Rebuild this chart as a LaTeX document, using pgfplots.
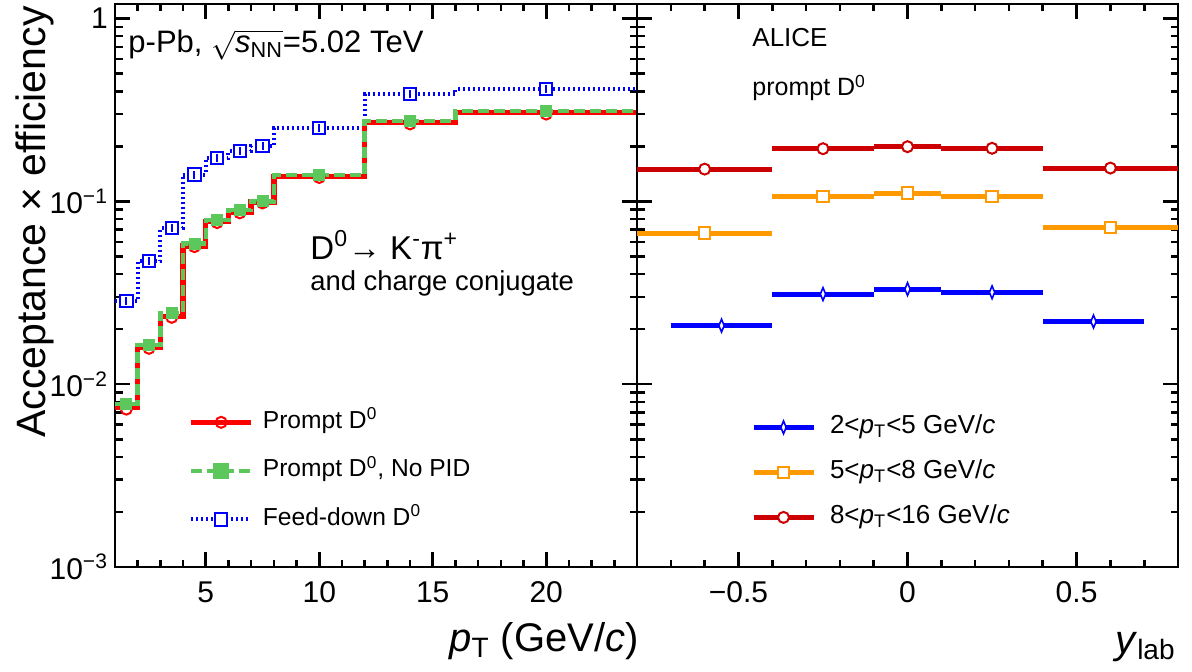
\documentclass[border=0pt]{standalone}
\usepackage{fontspec}
\setmainfont{Liberation Sans}
\usepackage{pgfplots}
\pgfplotsset{compat=1.18}

\definecolor{prred}{RGB}{255,0,0}
\definecolor{nopid}{RGB}{92,200,92}
\definecolor{fdblue}{RGB}{0,0,255}
\definecolor{rblue}{RGB}{0,0,255}
\definecolor{rorange}{RGB}{255,153,0}
\definecolor{rred}{RGB}{204,0,0}

\newcommand{\fs}[1]{\fontsize{#1}{#1}\selectfont}

\pgfplotsset{
  every axis/.append style={
    scale only axis, height=281.5pt,
    ymin=1e-3, ymax=1.2,
    ytick={0.001,0.01,0.1,1},
    minor ytick={0.002,0.003,0.004,0.005,0.006,0.007,0.008,0.009,
                 0.02,0.03,0.04,0.05,0.06,0.07,0.08,0.09,
                 0.2,0.3,0.4,0.5,0.6,0.7,0.8,0.9},
    axis line style={line width=1.3pt},
    major tick length=7.5pt, minor tick length=3.75pt,
    tick align=inside, xtick pos=both, ytick pos=both,
    tick label style={font=\fs{15}},
    xticklabel style={inner sep=0pt, yshift=-7pt},
    legend cell align=left,
  },
  every tick/.append style={black, line width=1.3pt},
  legend image code/.code={
    \draw[mark repeat=2, mark phase=2, #1] plot coordinates {(0pt,0pt) (15pt,0pt) (30pt,0pt)};
    \path (34.5pt,0pt);
  },
}

\begin{document}
\begin{tikzpicture}
% ---------------- left panel: vs pT ----------------
\begin{semilogyaxis}[width=261pt, at={(0pt,0pt)}, anchor=south west,
  xmin=1, xmax=24,
  xtick={5,10,15,20}, xticklabels={5,10,15,20},
  minor xtick={1,2,...,24},
  yticklabels={10\textsuperscript{−3},10\textsuperscript{−2},10\textsuperscript{−1},1},
  xlabel={\textit{p}\textsubscript{T} (GeV/\textit{c})},
  xlabel style={at={(rel axis cs:1,0)}, anchor=east, inner sep=0pt, xshift=1pt, yshift=-37pt, font=\fs{20}},
  ylabel={Acceptance × efficiency},
  ylabel style={at={(rel axis cs:-0.1341,0.9964)}, anchor=base east, inner sep=0pt, font=\fs{20.5}},
  legend style={at={(rel axis cs:0.14,0.279)}, anchor=north west, draw=none, fill=none,
    font=\fs{12.3}, inner sep=0pt, row sep=12.25pt,
    nodes={inner sep=0pt, text height=9pt, text depth=3pt}},
]
% feed-down
\addplot[fdblue, line width=2pt, dash pattern=on 1pt off 1.5pt, const plot mark left, forget plot]
  coordinates {(1,0.0284) (2,0.0471) (3,0.0716) (4,0.140) (5,0.173) (6,0.188) (7,0.201)
               (8,0.251) (12,0.386) (16,0.410) (24,0.410)};
\addplot[fdblue, only marks, mark=square*, mark size=3.1pt, mark options={fill=white, line width=1pt}, forget plot]
  coordinates {(1.5,0.0284) (2.5,0.0471) (3.5,0.0716) (4.5,0.140) (5.5,0.173) (6.5,0.188)
               (7.5,0.201) (10,0.251) (14,0.386) (20,0.410)};
\addplot[fdblue, only marks, mark=|, mark size=2pt, mark options={line width=1pt}, forget plot]
  coordinates {(1.5,0.0284) (2.5,0.0471) (3.5,0.0716) (4.5,0.140) (5.5,0.173) (6.5,0.188)
               (7.5,0.201) (10,0.251) (14,0.386) (20,0.410)};
% prompt
\addplot[prred, line width=2.7pt, const plot mark left, forget plot]
  coordinates {(1,0.0075) (2,0.0160) (3,0.0235) (4,0.0571) (5,0.0773) (6,0.0873) (7,0.0989)
               (8,0.137) (12,0.269) (16,0.305) (24,0.305)};
\addplot[prred, only marks, mark=o, mark size=2.75pt, mark options={line width=1pt}, forget plot]
  coordinates {(1.5,0.0073) (2.5,0.0157) (3.5,0.0232) (4.5,0.0565) (5.5,0.0765) (6.5,0.0865)
               (7.5,0.0980) (10,0.135) (14,0.265) (20,0.300)};
% prompt, no PID
\addplot[nopid, line width=2.2pt, dash pattern=on 5.5pt off 2.5pt, const plot mark left, forget plot]
  coordinates {(1,0.0078) (2,0.0164) (3,0.0244) (4,0.0588) (5,0.0790) (6,0.0895) (7,0.100)
               (8,0.139) (12,0.276) (16,0.312) (24,0.312)};
\addplot[nopid, only marks, mark=square*, mark size=2.75pt, forget plot]
  coordinates {(1.5,0.0078) (2.5,0.0164) (3.5,0.0244) (4.5,0.0588) (5.5,0.0790) (6.5,0.0895)
               (7.5,0.100) (10,0.139) (14,0.276) (20,0.312)};

\addlegendimage{prred, line width=2.7pt, mark=o, mark size=2.75pt, mark options={line width=1pt}}
\addlegendentry{Prompt D\textsuperscript{0}}
\addlegendimage{nopid, line width=2.2pt, dash pattern=on 5.5pt off 2.5pt, mark=square*, mark size=2.75pt, mark options={solid}}
\addlegendentry{Prompt D\textsuperscript{0}, No PID}
\addlegendimage{fdblue, line width=2pt, dash pattern=on 1pt off 1.5pt, mark=square*, mark size=3.1pt, mark options={solid, fill=white, line width=1pt}}
\addlegendentry{Feed-down D\textsuperscript{0}}

\node[anchor=west, inner sep=0pt, font=\fs{15.5}] at (rel axis cs:0.025,0.927)
  {p-Pb, $\sqrt{\mbox{\textit{s}\textsubscript{NN}}}$=5.02 TeV};
\node[anchor=west, inner sep=0pt, font=\fs{16.5}] at (rel axis cs:0.3736,0.572)
  {D\textsuperscript{0}→ K\textsuperscript{-}π\textsuperscript{+}};
\node[anchor=west, inner sep=0pt, font=\fs{13.7}] at (rel axis cs:0.3736,0.504) {and charge conjugate};
\end{semilogyaxis}

% ---------------- right panel: vs y_lab ----------------
\begin{semilogyaxis}[width=270.5pt, at={(261pt,0pt)}, anchor=south west,
  xmin=-0.8, xmax=0.8,
  xtick={-0.5,0,0.5}, xticklabels={−0.5,0,0.5},
  minor xtick={-0.8,-0.7,-0.6,-0.5,-0.4,-0.3,-0.2,-0.1,0,0.1,0.2,0.3,0.4,0.5,0.6,0.7,0.8},
  yticklabels={},
  xlabel={\textit{y}\textsubscript{lab}},
  xlabel style={at={(rel axis cs:1,0)}, anchor=east, inner sep=0pt, xshift=-1pt, yshift=-40pt, font=\fs{20}},
  legend image code/.code={
    \draw[mark repeat=2, mark phase=2, #1] plot coordinates {(0pt,0pt) (15pt,0pt) (30pt,0pt)};
    \path (37pt,0pt);
  },
  legend style={at={(rel axis cs:0.21,0.27)}, anchor=north west, draw=none, fill=none,
    font=\fs{13}, inner sep=0pt, row sep=10.5pt,
    nodes={inner sep=0pt, text height=9pt, text depth=3pt}},
]
\addplot[rblue, only marks, mark=diamond*, mark size=3.2pt,
  mark options={fill=white, line width=0.8pt, xscale=0.55}, forget plot,
  error bars/.cd, x dir=both, x explicit, error mark=none,
  error bar style={line width=2.5pt, rblue}]
  coordinates {(-0.55,0.0209) +- (0.15,0) (-0.25,0.0311) +- (0.15,0) (0,0.0331) +- (0.1,0)
               (0.25,0.0318) +- (0.15,0) (0.55,0.0220) +- (0.15,0)};
\addplot[rorange, only marks, mark=square*, mark size=2.9pt,
  mark options={fill=white, line width=1pt}, forget plot,
  error bars/.cd, x dir=both, x explicit, error mark=none,
  error bar style={line width=2.5pt, rorange}]
  coordinates {(-0.6,0.0670) +- (0.2,0) (-0.25,0.106) +- (0.15,0) (0,0.111) +- (0.1,0)
               (0.25,0.106) +- (0.15,0) (0.6,0.072) +- (0.2,0)};
\addplot[rred, only marks, mark=*, mark size=2.75pt,
  mark options={fill=white, line width=1pt}, forget plot,
  error bars/.cd, x dir=both, x explicit, error mark=none,
  error bar style={line width=2.5pt, rred}]
  coordinates {(-0.6,0.150) +- (0.2,0) (-0.25,0.194) +- (0.15,0) (0,0.199) +- (0.1,0)
               (0.25,0.195) +- (0.15,0) (0.6,0.152) +- (0.2,0)};

\addlegendimage{rblue, line width=2.5pt, mark=diamond*, mark size=3.2pt, mark options={fill=white, line width=0.8pt, xscale=0.55}}
\addlegendentry{2<\textit{p}\textsubscript{T}<5 GeV/\textit{c}}
\addlegendimage{rorange, line width=2.5pt, mark=square*, mark size=2.9pt, mark options={fill=white, line width=1pt}}
\addlegendentry{5<\textit{p}\textsubscript{T}<8 GeV/\textit{c}}
\addlegendimage{rred, line width=2.5pt, mark=*, mark size=2.75pt, mark options={fill=white, line width=1pt}}
\addlegendentry{8<\textit{p}\textsubscript{T}<16 GeV/\textit{c}}

\node[anchor=west, inner sep=0pt, font=\fs{13}] at (rel axis cs:0.2126,0.941) {ALICE};
\node[anchor=west, inner sep=0pt, font=\fs{12.5}] at (rel axis cs:0.2126,0.851) {prompt D\textsuperscript{0}};
\end{semilogyaxis}

\pgfresetboundingbox
\path (-57.5pt,-52.5pt) rectangle (538.5pt,283.5pt);
\end{tikzpicture}
\end{document}
